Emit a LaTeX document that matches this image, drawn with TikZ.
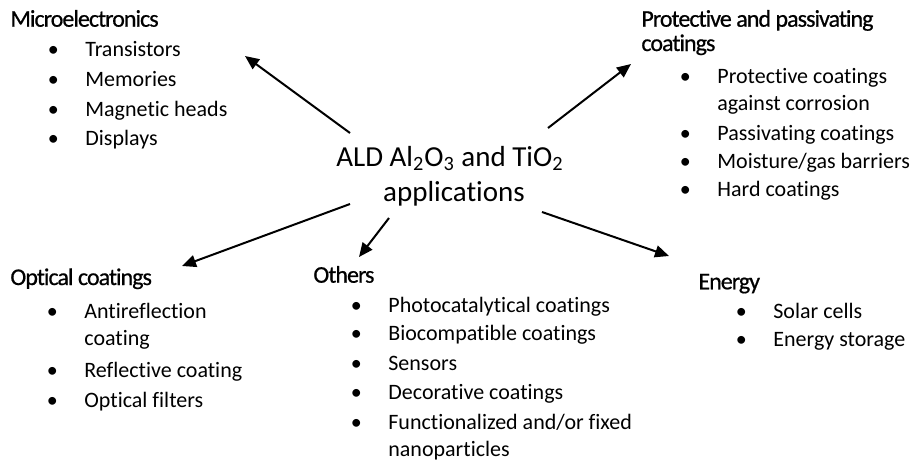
\documentclass[tikz,border=0pt]{standalone}
\usepackage{fontspec}
\setmainfont{Carlito}[Ligatures=NoCommon]
\newfontfamily\headfont[LetterSpace=-4, FakeBold=0.6, Ligatures=NoCommon]{Carlito}
\usetikzlibrary{arrows.meta}

\newcommand{\bul}{\makebox[32pt][c]{\textbullet}}

\begin{document}
\begin{tikzpicture}[x=0.5pt,y=0.5pt,yscale=-1,xscale=1,
        head/.style={anchor=base west, inner sep=0pt, font=\headfont\fontsize{12}{14}\selectfont},
        entry/.style={anchor=base west, inner sep=0pt, font=\fontsize{11}{13}\selectfont},
        hub/.style={anchor=base, inner sep=0pt, font=\fontsize{14.5}{17.5}\selectfont},
        arr/.style={line width=1pt, -{Triangle[length=7pt,width=6pt]}}]
        \useasboundingbox (0,0) rectangle (921,462);

        % Text Node
        \draw (450,166) node (ald) [hub] {ALD Al\textsubscript{2}O\textsubscript{3} and TiO\textsubscript{2}};
        % Text Node
        \draw (454,201) node (app) [hub] {applications};

        % Text Node
        \draw (10,26.7) node (micro) [head] {Microelectronics};
        \draw (21,56.7) node (me1) [entry] {\bul Transistors};
        \draw (21,86.7) node (me2) [entry] {\bul Memories};
        \draw (21,116.5) node (me3) [entry] {\bul Magnetic heads};
        \draw (21,145) node (me4) [entry] {\bul Displays};

        % Text Node
        \draw (641,26.7) node (prot) [head] {Protective and passivating};
        \draw (641,51) node (prot2) [head] {coatings};
        \draw (653,83.3) node (pp1) [entry] {\bul Protective coatings};
        \draw (717,110) node (pp1b) [entry] {against corrosion};
        \draw (653,140) node (pp2) [entry] {\bul Passivating coatings};
        \draw (653,168) node (pp3) [entry] {\bul Moisture/gas barriers};
        \draw (653,196.7) node (pp4) [entry] {\bul Hard coatings};

        % Text Node
        \draw (10,285) node (optic) [head] {Optical coatings};
        \draw (20,318.3) node (oc1) [entry] {\bul Antireflection};
        \draw (84,345) node (oc1b) [entry] {coating};
        \draw (20,377.7) node (oc2) [entry] {\bul Reflective coating};
        \draw (20,407.3) node (oc3) [entry] {\bul Optical filters};

        % Text Node
        \draw (313,282.7) node (other) [head] {Others};
        \draw (324,312.7) node (ot1) [entry] {\bul Photocatalytical coatings};
        \draw (324,340.7) node (ot2) [entry] {\bul Biocompatible coatings};
        \draw (324,370.7) node (ot3) [entry] {\bul Sensors};
        \draw (324,399.3) node (ot4) [entry] {\bul Decorative coatings};
        \draw (324,429.3) node (ot5) [entry] {\bul Functionalized and/or fixed};
        \draw (388,456.7) node (ot5b) [entry] {nanoparticles};

        % Text Node
        \draw (698,289.3) node (energy) [head] {Energy};
        \draw (709,318.3) node (en1) [entry] {\bul Solar cells};
        \draw (709,346.7) node (en2) [entry] {\bul Energy storage};

        % Arrows
        \coordinate (meTail) at (350,133);
        \coordinate (meTip) at (245,56);
        \coordinate (ppTail) at (548,128);
        \coordinate (ppTip) at (631,64);
        \coordinate (ocTail) at (350,204);
        \coordinate (ocTip) at (182,266);
        \coordinate (otTail) at (389,218);
        \coordinate (otTip) at (359,257);
        \coordinate (enTail) at (542,212);
        \coordinate (enTip) at (669,256);
        \draw [arr] (meTail) -- (meTip);
        \draw [arr] (ppTail) -- (ppTip);
        \draw [arr] (ocTail) -- (ocTip);
        \draw [arr] (otTail) -- (otTip);
        \draw [arr] (enTail) -- (enTip);

\end{tikzpicture}
\end{document}
